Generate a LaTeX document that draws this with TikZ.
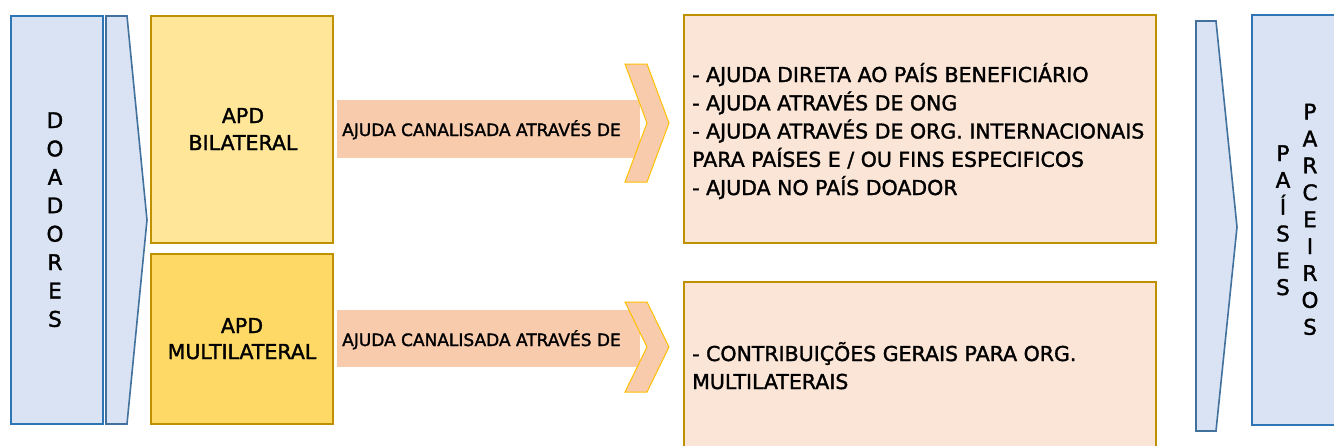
\documentclass[tikz,border=0pt]{standalone}
\usepackage{fontspec}
\newfontfamily\dinfont[FakeBold=1.6]{DejaVu Sans}
\definecolor{blueFill}{HTML}{DAE3F3}
\definecolor{blueLine}{HTML}{2E75B6}
\definecolor{chevLine}{HTML}{41719C}
\definecolor{yellowA}{HTML}{FFE699}
\definecolor{yellowB}{HTML}{FFD966}
\definecolor{goldLine}{HTML}{BF9000}
\definecolor{peach}{HTML}{FBE5D6}
\definecolor{arrowFill}{HTML}{F8CBAD}
\definecolor{arrowLine}{HTML}{FFC000}
\begin{document}
\begin{tikzpicture}[x=1pt,y=-1pt,
  bigtxt/.style={inner sep=0pt, font=\dinfont\fontsize{20.5}{24}\selectfont, anchor=base west},
  ctrtxt/.style={inner sep=0pt, font=\dinfont\fontsize{20.5}{24}\selectfont, anchor=base},
  smalltxt/.style={inner sep=0pt, font=\dinfont\fontsize{17}{20}\selectfont, anchor=base west},
  vtxt/.style={inner sep=0pt, font=\dinfont\fontsize{21.5}{24}\selectfont, anchor=base},
  bluebox/.style={draw=blueLine, line width=2.8pt, fill=blueFill},
  bluechev/.style={draw=chevLine, line width=1.6pt, fill=blueFill, line join=miter},
  goldbox/.style={draw=goldLine, line width=2.4pt},
  arrowbody/.style={fill=arrowFill},
  arrowhead/.style={draw=arrowLine, line width=1pt, fill=arrowFill}]
\useasboundingbox (0,0) rectangle (1334,445);
% left
\draw[bluebox] (11,16) rectangle (103,424);
\draw[bluechev] (106,16) -- (127,16) -- (147,220) -- (127,424) -- (106,424) -- cycle;
\foreach \l [count=\i] in {D,O,A,D,O,R,E,S}
  \node[vtxt] (d\i) at (55,{128+28.4*(\i-1)}) {\l};
% APD boxes
\draw[goldbox, fill=yellowA] (151,16) rectangle (333,243);
\draw[goldbox, fill=yellowB] (151,254) rectangle (333,424);
\node[ctrtxt] (apd1) at (243,123) {APD};
\node[ctrtxt] (bil) at (243,150) {BILATERAL};
\node[ctrtxt] (apd2) at (242,333) {APD};
\node[ctrtxt] (mul) at (242,359) {MULTILATERAL};
% arrows
\fill[arrowbody] (337,100) rectangle (640,158);
\draw[arrowhead] (625,64) -- (647,64) -- (669,123) -- (647,182) -- (625,182) -- (647,123) -- cycle;
\node[smalltxt] (ar1) at (342,136) {AJUDA CANALISADA ATRAVÉS DE};
\fill[arrowbody] (337,310) rectangle (640,367);
\draw[arrowhead] (625,302) -- (647,302) -- (669,347) -- (647,392) -- (625,392) -- (647,347) -- cycle;
\node[smalltxt] (ar2) at (342,346) {AJUDA CANALISADA ATRAVÉS DE};
% right boxes
\draw[goldbox, fill=peach] (684,15) rectangle (1156,243);
\node[bigtxt] (l1) at (692,82) {- AJUDA DIRETA AO PAÍS BENEFICIÁRIO};
\node[bigtxt] (l2) at (692,110.3) {- AJUDA ATRAVÉS DE ONG};
\node[bigtxt] (l3) at (692,138.5) {- AJUDA ATRAVÉS DE ORG. INTERNACIONAIS};
\node[bigtxt] (l4) at (692,166.8) {PARA PAÍSES E / OU FINS ESPECIFICOS};
\node[bigtxt] (l5) at (692,195) {- AJUDA NO PAÍS DOADOR};
\draw[goldbox, fill=peach] (684,282) rectangle (1156,460);
\node[bigtxt] (m1) at (692,361) {- CONTRIBUIÇÕES GERAIS PARA ORG.};
\node[bigtxt] (m2) at (692,389) {MULTILATERAIS};
% right side
\draw[bluechev] (1196,21) -- (1216,21) -- (1237,227) -- (1216,431) -- (1196,431) -- cycle;
\draw[bluebox] (1252,15) rectangle (1345,425);
\foreach \l [count=\i] in {P,A,Í,S,E,S}
  \node[vtxt] (p\i) at (1283,{161+26.8*(\i-1)}) {\l};
\foreach \l [count=\i] in {P,A,R,C,E,I,R,O,S}
  \node[vtxt] (q\i) at (1310,{119.5+26.9*(\i-1)}) {\l};
\end{tikzpicture}
\end{document}
